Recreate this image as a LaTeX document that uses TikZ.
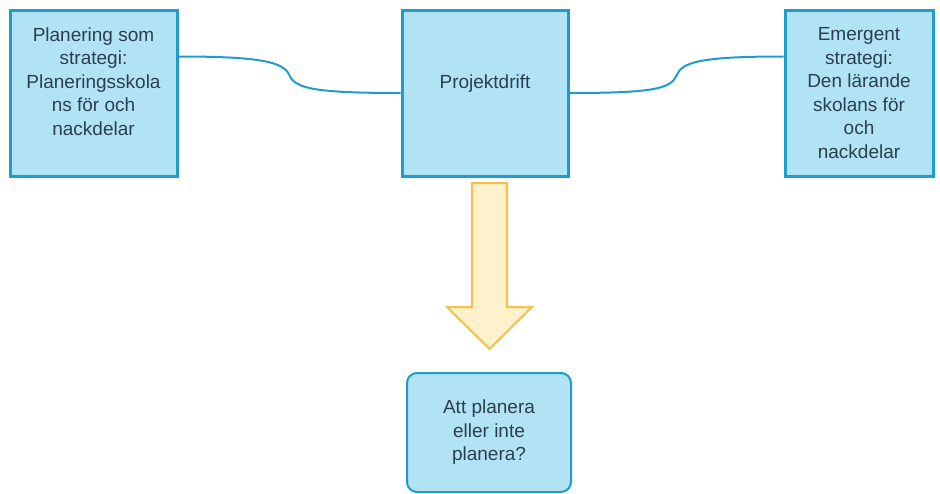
\documentclass[tikz,border=0pt]{standalone}
\usepackage{fontspec}
\setmainfont{Liberation Sans}
\definecolor{boxfill}{HTML}{B1E3F5}
\definecolor{boxline}{HTML}{1F9CCB}
\definecolor{boxtext}{HTML}{2A3F50}
\definecolor{arrowfill}{HTML}{FFF1CC}
\definecolor{arrowline}{HTML}{F4C144}
\tikzset{
	sqbox/.style={draw=boxline, fill=boxfill, line width=3pt, inner sep=0pt,
		minimum height=166pt, align=center, text=boxtext,
		font=\fontsize{19}{23.5}\selectfont},
	roundbox/.style={sqbox, line width=2pt, rounded corners=10pt, minimum height=119pt},
	link/.style={draw=boxline, line width=2pt}
}
\begin{document}
\begin{tikzpicture}[x=1pt, y=-1pt]
\useasboundingbox (0,0) rectangle (940,493);
\node[sqbox, minimum width=167pt] (plan) at (93.5,93) {Planering som\\strategi:\\Planeringsskola\\ns för och\\nackdelar\\\mbox{}};
\node[sqbox, minimum width=166pt] (proj) at (485,93) {Projektdrift\\\mbox{}};
\node[sqbox, minimum width=148pt] (emer) at (859,93) {Emergent\\strategi:\\Den lärande\\skolans för\\och\\nackdelar};
\node[roundbox, minimum width=164pt] (fraga) at (489,432.5) {Att planera\\eller inte\\planera?};
% connectors
\coordinate (pl) at ([yshift=-48pt]plan.north east);
\coordinate (em) at ([yshift=-48pt]emer.north west);
\coordinate (kl) at (289.5,75.5);
\coordinate (kr) at (676.5,75.5);
\draw[link] (pl) .. controls +(83,0) and +(-5.5,-13.5) .. (kl) .. controls +(5.5,13.5) and +(-82,0) .. (proj.west);
\draw[link] (proj.east) .. controls +(82,0) and +(-5.5,13.5) .. (kr) .. controls +(5.5,-13.5) and +(-83,0) .. (em);
% block arrow
\draw[draw=arrowline, fill=arrowfill, line width=2pt, line join=miter]
	(472,183) -- (507,183) -- (507,307) -- (532,307) -- (489.5,349) -- (447,307) -- (472,307) -- cycle;
\end{tikzpicture}
\end{document}
